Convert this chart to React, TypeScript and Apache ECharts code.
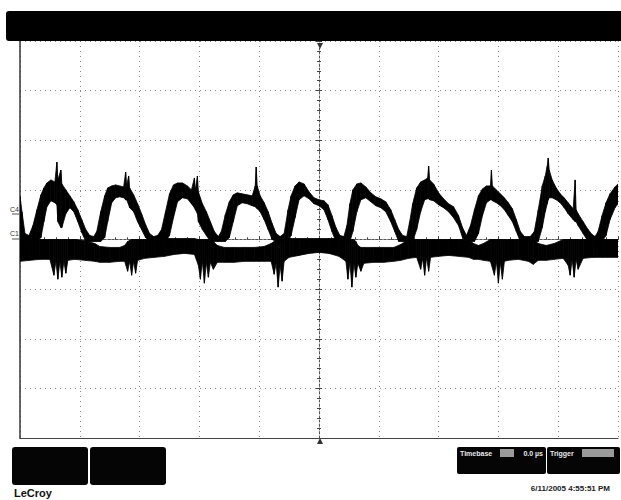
import React, { useEffect, useRef } from "react";
import * as echarts from "echarts";

// Time axis: sample index across the 10-division screen (60 samples / div)
// Vertical: mV, 50 mV / div, screen spans -200 .. 200

// Channel C4 (rectified humps), thick noisy trace: inner and outer edges
const c4T = [
  0, 2, 5, 9, 13, 17, 21, 24, 27, 31, 35, 37, 38, 41, 42, 46, 50, 54, 58, 62, 66, 70, 74,
  77, 81, 85, 88, 92, 96, 100, 104, 106, 107, 109, 110, 114, 118, 122, 126, 130, 134, 138,
  142, 146, 150, 154, 158, 163, 168, 172, 175, 176, 178, 179, 183, 187, 191, 195, 199,
  202, 206, 210, 214, 218, 223, 228, 233, 236, 237, 238, 241, 245, 249, 253, 257, 261,
  265, 269, 272, 276, 280, 285, 290, 295, 300, 305, 309, 313, 317, 321, 325,
  328, 331, 334, 338, 342, 347, 352, 357, 362, 367, 372, 376, 380, 384, 388,
  391, 394, 398, 402, 406, 409, 410, 411, 415, 420, 425, 430, 435, 440, 444, 448,
  452, 456, 460, 464, 468, 472, 473, 474, 478, 482, 486, 490, 494, 498, 502, 506, 512,
  516, 520, 524, 527, 529, 530, 531, 534, 538, 542, 546, 550, 555, 557, 558, 560, 565, 570, 574, 577,
  580, 584, 588, 592, 597, 600,
];
const c4Outer = [
  44, 28, 6, 4, 14, 30, 45, 52, 57, 60, 58, 78, 60, 70, 56, 50, 44, 38, 30, 20, 10, 4, 3,
  8, 28, 44, 52, 54, 55, 54, 53, 68, 54, 64, 52, 45, 36, 26, 15, 6, 3, 4,
  10, 28, 46, 55, 57, 57, 54, 50, 62, 50, 64, 48, 36, 28, 18, 8, 3,
  8, 25, 38, 45, 47, 46, 45, 44, 54, 73, 54, 44, 37, 28, 16, 6, 3,
  6, 30, 44, 54, 58, 56, 48, 42, 40, 39, 35, 24, 12, 4, 3,
  14, 36, 50, 56, 57, 53, 47, 43, 41, 38, 30, 20, 10, 4, 3,
  18, 36, 52, 58, 60, 62, 74, 60, 56, 47, 41, 36, 33, 24, 12, 4,
  14, 30, 44, 51, 54, 54, 70, 54, 50, 46, 42, 37, 31, 20, 8, 3, 3,
  8, 30, 54, 64, 74, 82, 70, 60, 52, 46, 42, 37, 31, 60, 30, 26, 18, 10, 5, 3,
  8, 24, 37, 46, 53, 56,
];
const c4Inner = [
  -2, -2, -2, -2, -2, -2, 2, 18, 33, 39, 37, 35, 18, 12, 12, 26, 32, 28, 18, 7, -2, -2, -2,
  -2, -2, 2, 18, 37, 42, 43, 42, 40, 40, 35, 32, 28, 18, 10, 2, -2, -2, -2,
  -2, -2, 4, 22, 38, 42, 41, 36, 32, 30, 26, 18, 10, 4, -2, -2, -2,
  -2, -2, 2, 18, 34, 37, 36, 34, 33, 32, 31, 28, 20, 10, 0, -2, -2,
  -2, -2, 4, 22, 40, 44, 41, 36, 34, 30, 20, 8, -2, -2, -2,
  -2, -2, 8, 28, 40, 42, 38, 34, 32, 28, 18, 8, -2, -2, -2,
  -2, -2, 10, 28, 40, 41, 41, 40, 39, 35, 32, 28, 22, 14, 2, -2,
  -2, -2, 6, 24, 37, 40, 40, 39, 37, 34, 30, 24, 18, 8, -2, -2, -2,
  -2, -2, 12, 28, 36, 40, 42, 42, 40, 37, 32, 26, 20, 18, 18, 14, 6, -2, -2, -2,
  -2, -2, 4, 20, 32, 36,
];

// Channel C1 (noisy band just below the zero line): top and bottom edges
const c1T = [
  0, 10, 20, 30, 34, 36, 38, 40, 42, 44,
  46, 48, 55, 65, 75, 80, 90, 100, 105, 108,
  110, 112, 114, 116, 118, 125, 135, 145, 155, 165,
  175, 179, 181, 183, 185, 187, 189, 191, 194, 198,
  205, 215, 225, 235, 245, 252, 255, 257, 259, 261,
  263, 265, 270, 280, 290, 300, 310, 320, 327, 329,
  331, 333, 335, 337, 339, 342, 345, 355, 365, 375,
  382, 390, 398, 402, 404, 406, 408, 410, 412, 420,
  430, 440, 450, 455, 460, 465, 472, 476, 478, 480,
  482, 484, 486, 490, 500, 510, 515, 520, 528, 536,
  545, 550, 552, 554, 556, 558, 560, 565, 575, 585,
  600,
];
const c1Top = [
  -1, 0, 0, 0, 0, 0, 0, 0, 0, 0,
  0, 0, 0, -1, -4, -7, -8, -8, -6, -2,
  -1, 0, 0, 0, 0, 0, 0, 1, 1, 1,
  1, 0, 0, 0, 0, 0, 0, 0, -2, -6,
  -8, -8, -8, -8, -7, -4, -2, 0, 0, 0,
  0, 0, 1, 1, 1, 1, 1, 1, 0, 0,
  0, 0, 0, -2, -6, -8, -8, -8, -8, -8,
  -5, 0, 0, 0, 0, 0, 0, 0, 0, 0,
  0, 0, 0, -4, -6, -4, 0, 0, 0, 0,
  0, 0, 0, 0, 0, 0, 0, -4, -6, -4,
  0, 0, 0, 0, 0, 0, 0, 0, 0, 0,
  0,
];
const c1Bottom = [
  -22, -21, -20, -20, -36, -22, -40, -22, -38, -22,
  -34, -21, -20, -21, -22, -23, -23, -22, -22, -32,
  -22, -36, -22, -34, -21, -19, -18, -17, -15, -14,
  -15, -26, -40, -22, -44, -23, -38, -23, -30, -23,
  -23, -23, -22, -22, -22, -22, -35, -24, -48, -26,
  -42, -22, -18, -16, -14, -13, -14, -17, -22, -40,
  -23, -48, -24, -38, -24, -32, -24, -23, -23, -22,
  -21, -19, -18, -30, -19, -36, -18, -32, -18, -17,
  -16, -17, -18, -20, -20, -21, -22, -36, -22, -44,
  -23, -40, -22, -21, -20, -22, -25, -21, -21, -20,
  -19, -26, -36, -20, -38, -20, -30, -19, -18, -18,
  -18,
];

const channelLabels = ["C4", "C1"];
const timebaseLabel = "Timebase";
const delayLabel = "0.0 µs";
const triggerLabel = "Trigger";
const brandLabel = "LeCroy";
const dateLabel = "6/11/2005 4:55:51 PM";

const FONT = "Liberation Sans, Arial, sans-serif";

// build [t0, lo0, hi0, t1, lo1, hi1] segments for a band series
function segments(t: number[], lo: number[], hi: number[]) {
  const out: number[][] = [];
  for (let i = 0; i < t.length - 1; i++) {
    out.push([t[i], lo[i], hi[i], t[i + 1], lo[i + 1], hi[i + 1]]);
  }
  return out;
}

function bandSeries(name: string, data: number[][]) {
  return {
    type: "custom",
    name,
    xAxisIndex: 0,
    yAxisIndex: 0,
    clip: true,
    silent: true,
    encode: { x: [0, 3], y: [1, 2, 4, 5] },
    data,
    renderItem: (_params: any, api: any) => {
      const a = api.coord([api.value(0), api.value(2)]);
      const b = api.coord([api.value(3), api.value(5)]);
      const c = api.coord([api.value(3), api.value(4)]);
      const d = api.coord([api.value(0), api.value(1)]);
      return {
        type: "polygon",
        shape: { points: [a, b, c, d] },
        style: { fill: "#000", stroke: "#000", lineWidth: 0.8 },
      };
    },
  };
}

export default function App() {
  const ref = useRef<HTMLDivElement>(null);

  useEffect(() => {
    const chart = echarts.init(ref.current!, null, { renderer: "svg" });

    const gridLine = { type: [1, 4] as any, color: "#8a8a8a", width: 1 };
    const centerLine = { color: "#555", width: 1, type: [2, 2] as any };

    chart.setOption({
      animation: false,
      backgroundColor: "#fff",
      grid: { left: 20, top: 41, width: 598, height: 397 },
      xAxis: [
        {
          type: "value",
          min: 0,
          max: 600,
          interval: 60,
          axisLine: { show: true, onZero: true, lineStyle: centerLine },
          axisTick: { show: true, inside: true, length: 3, lineStyle: { color: "#444" } },
          minorTick: { show: true, splitNumber: 5, length: 2, lineStyle: { color: "#444" } },
          axisLabel: { show: false },
          splitLine: { show: true, lineStyle: gridLine },
        },
        {
          type: "value",
          min: 0,
          max: 600,
          interval: 60,
          axisLine: { show: true, onZero: true, lineStyle: centerLine },
          axisTick: { show: true, inside: false, length: 3, lineStyle: { color: "#444" } },
          minorTick: { show: true, splitNumber: 5, length: 2, lineStyle: { color: "#444" } },
          axisLabel: { show: false },
          splitLine: { show: false },
        },
        {
          type: "value",
          position: "bottom",
          min: 0,
          max: 600,
          axisLine: { show: true, onZero: false, lineStyle: { color: "#444", width: 1.2 } },
          axisTick: { show: false },
          axisLabel: { show: false },
          splitLine: { show: false },
        },
      ],
      yAxis: [
        {
          type: "value",
          min: -200,
          max: 200,
          interval: 50,
          position: "left",
          axisLine: { show: true, onZero: false, lineStyle: { color: "#333", width: 1.5 } },
          axisTick: { show: false },
          axisLabel: { show: false },
          splitLine: { show: true, lineStyle: gridLine },
        },
        {
          type: "value",
          min: -200,
          max: 200,
          interval: 50,
          position: "left",
          offset: -299,
          axisLine: { show: true, onZero: false, lineStyle: centerLine },
          axisTick: { show: true, inside: true, length: 3, lineStyle: { color: "#444" } },
          minorTick: { show: true, splitNumber: 5, length: 2, lineStyle: { color: "#444" } },
          axisLabel: { show: false },
          splitLine: { show: false },
        },
        {
          type: "value",
          min: -200,
          max: 200,
          interval: 50,
          position: "left",
          offset: -299,
          axisLine: { show: false, onZero: false },
          axisTick: { show: true, inside: false, length: 3, lineStyle: { color: "#444" } },
          minorTick: { show: true, splitNumber: 5, length: 2, lineStyle: { color: "#444" } },
          axisLabel: { show: false },
          splitLine: { show: false },
        },
      ],
      series: [
        bandSeries("C1", segments(c1T, c1Bottom, c1Top)),
        bandSeries("C4", segments(c4T, c4Inner, c4Outer)),
      ],
      graphic: [
        {
          type: "rect",
          shape: { x: 6, y: 11, width: 615, height: 30, r: [3, 0, 0, 3] },
          style: { fill: "#000" },
          z: 100,
        },
        {
          type: "polygon",
          shape: { points: [[317, 43], [323, 43], [320, 49]] },
          style: { fill: "#333" },
          z: 100,
        },
        {
          type: "polygon",
          shape: { points: [[317, 444], [323, 444], [320, 438]] },
          style: { fill: "#333" },
          z: 100,
        },
        {
          type: "text",
          x: 19,
          y: 209,
          style: { text: channelLabels[0], fontSize: 7, fontFamily: FONT, fill: "#333", align: "right", verticalAlign: "middle" },
          z: 100,
        },
        {
          type: "line",
          shape: { x1: 12, y1: 214, x2: 19, y2: 214 },
          style: { stroke: "#555", lineWidth: 1 },
          z: 100,
        },
        {
          type: "text",
          x: 19,
          y: 233,
          style: { text: channelLabels[1], fontSize: 7, fontFamily: FONT, fill: "#333", align: "right", verticalAlign: "middle" },
          z: 100,
        },
        {
          type: "line",
          shape: { x1: 12, y1: 239, x2: 19, y2: 239 },
          style: { stroke: "#555", lineWidth: 1 },
          z: 100,
        },
        {
          type: "rect",
          shape: { x: 12, y: 447, width: 76, height: 38, r: 3 },
          style: { fill: "#050505" },
          z: 100,
        },
        {
          type: "rect",
          shape: { x: 90, y: 447, width: 76, height: 38, r: 3 },
          style: { fill: "#050505" },
          z: 100,
        },
        {
          type: "text",
          x: 14,
          y: 493,
          style: { text: brandLabel, fontSize: 11, fontWeight: "bold", fontFamily: FONT, fill: "#111", verticalAlign: "middle" },
          z: 100,
        },
        {
          type: "rect",
          shape: { x: 457, y: 447, width: 89, height: 27, r: 2 },
          style: { fill: "#050505" },
          z: 100,
        },
        {
          type: "rect",
          shape: { x: 547, y: 447, width: 73, height: 27, r: 2 },
          style: { fill: "#050505" },
          z: 100,
        },
        {
          type: "rect",
          shape: { x: 500, y: 449, width: 14, height: 8 },
          style: { fill: "#9a9a9a" },
          z: 100,
        },
        {
          type: "rect",
          shape: { x: 582, y: 449, width: 32, height: 8 },
          style: { fill: "#9a9a9a" },
          z: 100,
        },
        {
          type: "text",
          x: 460,
          y: 453,
          style: { text: timebaseLabel, fontSize: 7, fontWeight: "bold", fontFamily: FONT, fill: "#e8e8e8", verticalAlign: "middle" },
          z: 101,
        },
        {
          type: "text",
          x: 543,
          y: 453,
          style: { text: delayLabel, fontSize: 7, fontWeight: "bold", fontFamily: FONT, fill: "#e8e8e8", align: "right", verticalAlign: "middle" },
          z: 101,
        },
        {
          type: "text",
          x: 550,
          y: 453,
          style: { text: triggerLabel, fontSize: 7, fontWeight: "bold", fontFamily: FONT, fill: "#e8e8e8", verticalAlign: "middle" },
          z: 101,
        },
        {
          type: "text",
          x: 610,
          y: 488,
          style: { text: dateLabel, fontSize: 8, fontWeight: "bold", fontFamily: FONT, fill: "#222", align: "right", verticalAlign: "middle" },
          z: 100,
        },
      ],
    });

    return () => chart.dispose();
  }, []);

  return (
    <div
      ref={ref}
      style={{ position: "fixed", left: 0, top: 0, width: 621, height: 500, background: "#fff" }}
    />
  );
}
